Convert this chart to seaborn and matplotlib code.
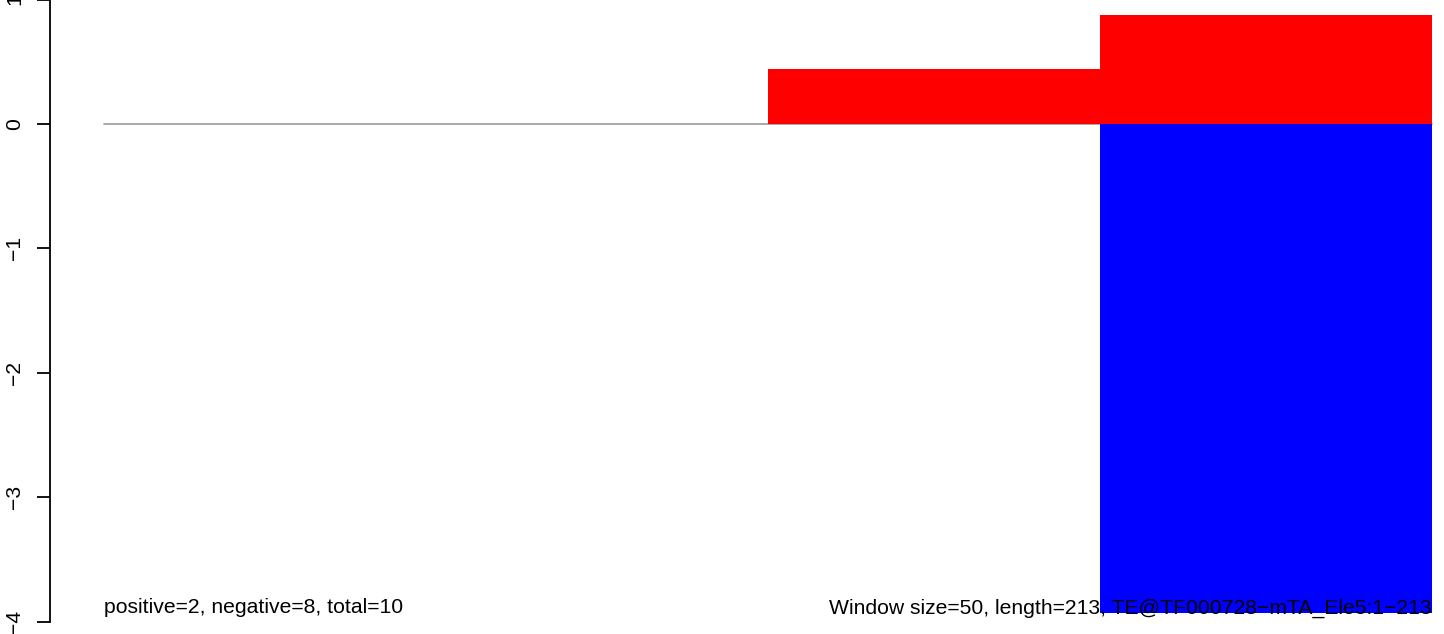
import numpy as np
import pandas as pd
import matplotlib
matplotlib.use("Agg")
import matplotlib.pyplot as plt
import seaborn as sns

# Data
windows = ["1-50", "51-100", "101-150", "151-200"]
positive_vals = [0.0, 0.0, 0.44, 0.876]
negative_vals = [0.0, 0.0, 0.0, -3.93]
ytick_vals = [-4, -3, -2, -1, 0, 1]
left_text = "positive=2, negative=8, total=10"
right_text = "Window size=50, length=213, TE@TF000728\u2212mTA_Ele5:1\u2212213"

sns.set_style("white")
plt.rcParams['font.family'] = ['Liberation Sans', 'DejaVu Sans']
plt.rcParams['text.color'] = 'black'
plt.rcParams['ytick.color'] = 'black'
plt.rcParams['ytick.labelcolor'] = 'black'

W, H = 1444, 634
FS = 15.2
fig = plt.figure(figsize=(W / 100, H / 100), dpi=100)

# Pixel layout
x_spine = 50.0
px_per_x = 332.0
x_first = 104.0  # pixel of left edge of first bar
y_zero = 124.0   # pixel (from top) of y=0
px_per_y = 124.4

xlim = (-0.5 - (x_first - x_spine) / px_per_x, -0.5 + (W - x_first) / px_per_x)
ylim = (-4.2, 1.2)
bottom_px = (H - y_zero) + ylim[0] * px_per_y
height_px = (ylim[1] - ylim[0]) * px_per_y
ax = fig.add_axes([x_spine / W, bottom_px / H, 1 - x_spine / W, height_px / H])

df = pd.DataFrame({"window": windows, "positive": positive_vals, "negative": negative_vals})

ax.plot([-0.5, len(windows) - 0.5], [0, 0], color="#9a9a9a", lw=1.2, zorder=1)
sns.barplot(data=df, x="window", y="positive", color="#ff0000", width=1.0,
            saturation=1, edgecolor="none", linewidth=0, ax=ax, zorder=2)
sns.barplot(data=df, x="window", y="negative", color="#0000ff", width=1.0,
            saturation=1, edgecolor="none", linewidth=0, ax=ax, zorder=2)

ax.set_xlim(*xlim)
ax.set_ylim(*ylim)
ax.set_xlabel("")
ax.set_ylabel("")
ax.set_xticks([])
ax.set_yticks(ytick_vals)
ax.set_yticklabels([str(v).replace("-", "\u2212") for v in ytick_vals],
                   rotation=90, va="center", fontsize=FS, color="black")
ax.tick_params(axis="y", direction="out", length=9.5, width=1.3, pad=9, color="black",
               labelcolor="black", left=True)
for s in ["top", "right", "bottom"]:
    ax.spines[s].set_visible(False)
ax.spines["left"].set_bounds(-4, 1)
ax.spines["left"].set_linewidth(1.3)
ax.spines["left"].set_color("black")
ax.patch.set_alpha(0)

# Bottom annotations
y_text = -(608 - y_zero) / px_per_y
ax.text(-0.5, y_text, left_text, ha="left", va="center", fontsize=FS, color="black", zorder=5)
ax.text(len(windows) - 0.5, y_text, right_text, ha="right", va="center", fontsize=FS,
        color="black", zorder=5)

fig.savefig("out.png", dpi=100)
